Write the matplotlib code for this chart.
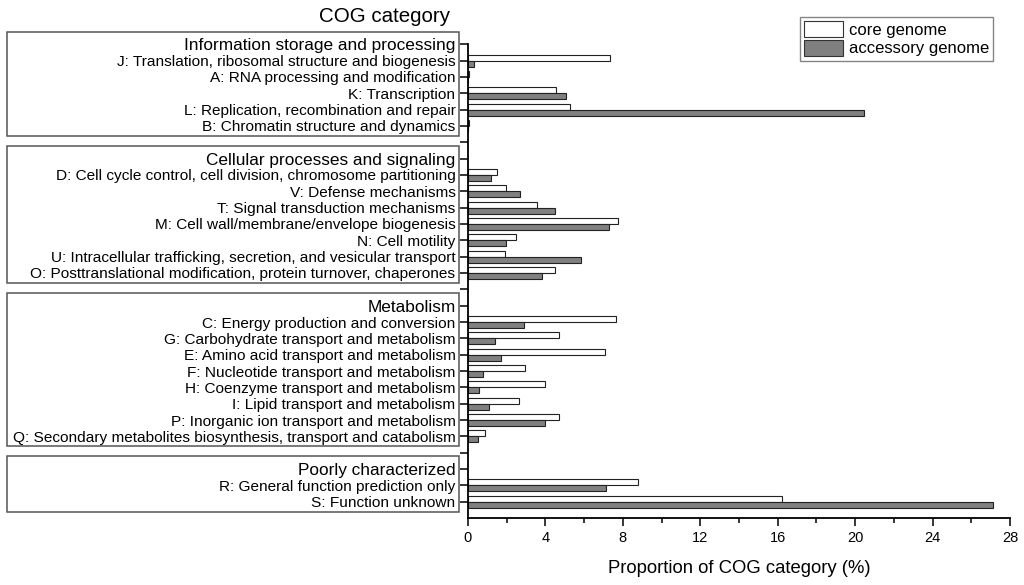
import matplotlib
matplotlib.use("Agg")
import matplotlib.pyplot as plt
from matplotlib.patches import Rectangle
from matplotlib.transforms import blended_transform_factory
from matplotlib.ticker import MultipleLocator

plt.rcParams['font.family'] = ['Liberation Sans', 'DejaVu Sans']

groups = [
    "Information storage and processing",
    "Cellular processes and signaling",
    "Metabolism",
    "Poorly characterized",
]
categories = [
    ["J: Translation, ribosomal structure and biogenesis",
     "A: RNA processing and modification",
     "K: Transcription",
     "L: Replication, recombination and repair",
     "B: Chromatin structure and dynamics"],
    ["D: Cell cycle control, cell division, chromosome partitioning",
     "V: Defense mechanisms",
     "T: Signal transduction mechanisms",
     "M: Cell wall/membrane/envelope biogenesis",
     "N: Cell motility",
     "U: Intracellular trafficking, secretion, and vesicular transport",
     "O: Posttranslational modification, protein turnover, chaperones"],
    ["C: Energy production and conversion",
     "G: Carbohydrate transport and metabolism",
     "E: Amino acid transport and metabolism",
     "F: Nucleotide transport and metabolism",
     "H: Coenzyme transport and metabolism",
     "I: Lipid transport and metabolism",
     "P: Inorganic ion transport and metabolism",
     "Q: Secondary metabolites biosynthesis, transport and catabolism"],
    ["R: General function prediction only",
     "S: Function unknown"],
]
core = [
    [7.35, 0.06, 4.54, 5.27, 0.06],
    [1.51, 1.95, 3.59, 7.73, 2.46, 1.89, 4.49],
    [7.63, 4.70, 7.10, 2.94, 3.97, 2.61, 4.70, 0.86],
    [8.78, 16.22],
]
accessory = [
    [0.29, 0.0, 5.06, 20.48, 0.0],
    [1.20, 2.69, 4.50, 7.27, 1.95, 5.86, 3.84],
    [2.88, 1.39, 1.72, 0.78, 0.57, 1.11, 3.97, 0.53],
    [7.12, 27.12],
]
series_names = ["core genome", "accessory genome"]
x_ticks = [0, 4, 8, 12, 16, 20, 24, 28]

W, H = 1024, 585
fig = plt.figure(figsize=(W/100, H/100), dpi=100)
ax_left, ax_right, ax_top, ax_bottom = 468, 1010, 44.3, 517.7
ax = fig.add_axes([ax_left/W, (H-ax_bottom)/H, (ax_right-ax_left)/W, (ax_bottom-ax_top)/H])

# build row layout
labels, is_header, core_vals, acc_vals, positions = [], [], [], [], []
group_spans = []
row = 0
for gi, g in enumerate(groups):
    if gi > 0:
        labels.append(""); is_header.append(False); positions.append(row)
        row += 1
    hdr = row
    labels.append(g); is_header.append(True); positions.append(row)
    row += 1
    for c, cv, av in zip(categories[gi], core[gi], accessory[gi]):
        labels.append(c); is_header.append(False); positions.append(row)
        core_vals.append((row, cv)); acc_vals.append((row, av))
        row += 1
    group_spans.append((hdr, row - 1))

h = 0.37
ax.barh([p - h/2 for p, _ in core_vals], [v for _, v in core_vals], height=h,
        color="white", edgecolor="#222222", linewidth=0.8, label=series_names[0])
ax.barh([p + h/2 for p, _ in acc_vals], [v for _, v in acc_vals], height=h,
        color="#808080", edgecolor="#222222", linewidth=0.8, label=series_names[1])

last_row = row - 1
ax.set_ylim(last_row + 0.98, 0)
ax.set_xlim(0, 28)
ax.set_yticks(positions)
ax.set_yticklabels(labels)
for tl, hd in zip(ax.get_yticklabels(), is_header):
    tl.set_fontsize(12.4 if hd else 11.1)
ax.set_xticks(x_ticks)
ax.xaxis.set_minor_locator(MultipleLocator(2))
ax.tick_params(axis='x', which='major', length=5.5, width=1.1, labelsize=10.5, pad=4)
ax.tick_params(axis='x', which='minor', length=3.5, width=1.1)
ax.tick_params(axis='y', length=6, width=1.1, pad=3)
ax.spines['top'].set_visible(False)
ax.spines['right'].set_visible(False)
ax.spines['left'].set_linewidth(1.3)
ax.spines['bottom'].set_linewidth(1.3)
ax.spines['left'].set_bounds(0, last_row + 0.98)
ax.set_xlabel("Proportion of COG category (%)", fontsize=13.3, labelpad=11)

# group boxes
tr = blended_transform_factory(fig.transFigure, ax.transData)
for hdr, last in group_spans:
    y0 = hdr - 0.78
    y1 = last + 0.62
    rect = Rectangle((7/W, y0), (458.5-7)/W, y1 - y0, transform=tr,
                     fill=False, edgecolor="#555555", linewidth=1.1, clip_on=False)
    fig.add_artist(rect)

fig.text(450/W, 1 - 16/H, "COG category", ha="right", va="center", fontsize=14.8)

leg = ax.legend(loc="upper right", bbox_to_anchor=(993/W, 1 - 17/H),
                bbox_transform=fig.transFigure, fontsize=12, frameon=True,
                fancybox=False, edgecolor="#666666", handlelength=2.3,
                handleheight=1.1, handletextpad=0.35, borderpad=0.25,
                labelspacing=0.12, borderaxespad=0)
leg.get_frame().set_linewidth(1.0)
for p in leg.get_patches():
    p.set_edgecolor("#333333")

fig.savefig("out.png", dpi=100)
